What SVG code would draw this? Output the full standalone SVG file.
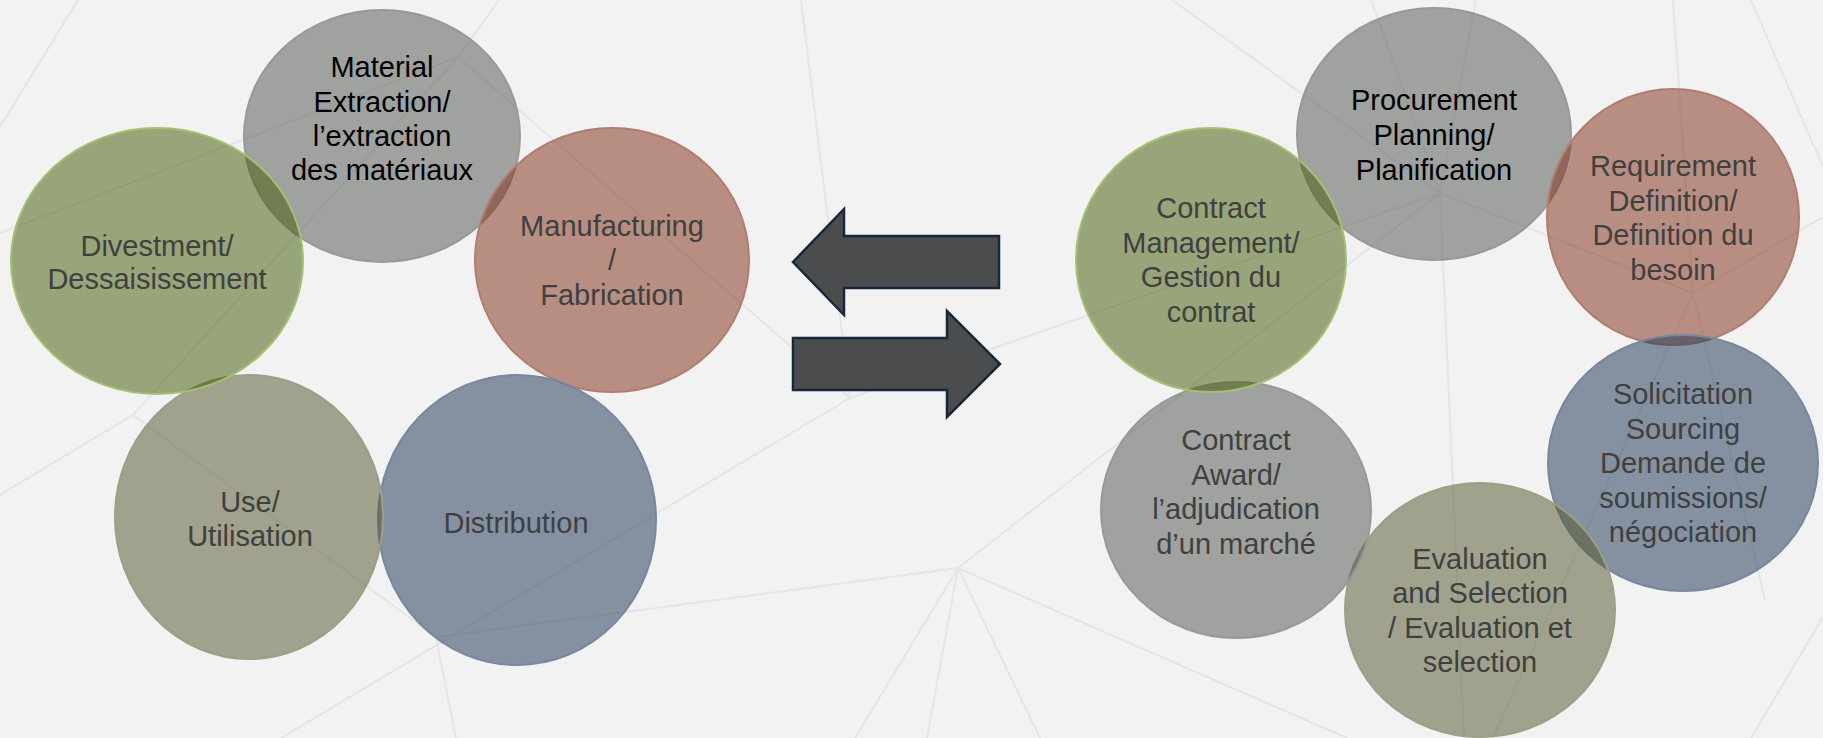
<svg xmlns="http://www.w3.org/2000/svg" width="1823" height="738" viewBox="0 0 1823 738">
<style>
.bg{fill:#f2f2f2}
.ln{stroke:#e3e5e7;stroke-width:2;fill:none}
.n{fill-opacity:0.52;stroke-width:2}
.gray{fill:#545854;stroke:#979997}
.green{fill:#455e0b;stroke:#a5c070}
.red{fill:#82321b;stroke:#b27d70}
.blue{fill:#203754;stroke:#7787a0}
.olive{fill:#565830;stroke:#9c9e86}
.t{font-family:"Liberation Sans",Arial,sans-serif;font-size:29px;text-anchor:middle;fill:#404040}
.tb{fill:#000}
.arr{fill:#4a4c4e;stroke:#17283d;stroke-width:2.5;stroke-linejoin:miter}
</style>
<rect class="bg" x="0" y="0" width="1823" height="738"/>
<g id="background-lines">
<path class="ln" d="M78 0L0 127"/>
<path class="ln" d="M499 0L458 57"/>
<path class="ln" d="M0 233L458 57"/>
<path class="ln" d="M458 57L850 398"/>
<path class="ln" d="M458 57L133 415"/>
<path class="ln" d="M133 415L0 495"/>
<path class="ln" d="M133 415L436 637"/>
<path class="ln" d="M436 637L456 738"/>
<path class="ln" d="M436 637L958 568"/>
<path class="ln" d="M281 738L850 398"/>
<path class="ln" d="M801 0L850 398"/>
<path class="ln" d="M850 398L1440 193"/>
<path class="ln" d="M958 568L1440 193"/>
<path class="ln" d="M958 568L855 738"/>
<path class="ln" d="M958 568L927 738"/>
<path class="ln" d="M958 568L1040 738"/>
<path class="ln" d="M958 568L1347 738"/>
<path class="ln" d="M1172 0L1440 193"/>
<path class="ln" d="M1371 0L1440 193"/>
<path class="ln" d="M1476 0L1440 193"/>
<path class="ln" d="M1440 193L1464 738"/>
<path class="ln" d="M1440 193L1693 293"/>
<path class="ln" d="M1673 0L1693 293"/>
<path class="ln" d="M1693 293L1823 217"/>
<path class="ln" d="M1693 293L1493 738"/>
<path class="ln" d="M1693 293L1765 600"/>
<path class="ln" d="M1751 0L1823 167"/>
<path class="ln" d="M1823 617L1751 738"/>
</g>
<g id="node-material-extraction">
<ellipse class="n gray" cx="382" cy="136" rx="138" ry="126"/>
<text class="t tb"><tspan x="382" y="77">Material</tspan><tspan x="382" y="112">Extraction/</tspan><tspan x="382" y="146">l’extraction</tspan><tspan x="382" y="180">des matériaux</tspan></text>
</g>
<g id="node-manufacturing">
<ellipse class="n red" cx="612" cy="260" rx="137" ry="132"/>
<text class="t"><tspan x="612" y="236">Manufacturing</tspan><tspan x="612" y="270">/</tspan><tspan x="612" y="305">Fabrication</tspan></text>
</g>
<g id="node-distribution">
<ellipse class="n blue" cx="517" cy="520" rx="139" ry="145"/>
<text class="t"><tspan x="516" y="533">Distribution</tspan></text>
</g>
<g id="node-use">
<ellipse class="n olive" cx="249" cy="517" rx="134" ry="142"/>
<text class="t"><tspan x="250" y="512">Use/</tspan><tspan x="250" y="546">Utilisation</tspan></text>
</g>
<g id="node-divestment">
<ellipse class="n green" cx="157" cy="261" rx="146" ry="133"/>
<text class="t"><tspan x="157" y="256">Divestment/</tspan><tspan x="157" y="289">Dessaisissement</tspan></text>
</g>
<g id="connectors">
<polygon class="arr" points="793,262 844,209 844,236 999,236 999,288 844,288 844,315"/>
<polygon class="arr" points="793,338 947,338 947,311 1000,364 947,417 947,390 793,390"/>
</g>
<g id="node-procurement-planning">
<ellipse class="n gray" cx="1434" cy="134" rx="137" ry="126"/>
<text class="t tb"><tspan x="1434" y="110">Procurement</tspan><tspan x="1434" y="145">Planning/</tspan><tspan x="1434" y="180">Planification</tspan></text>
</g>
<g id="node-requirement-definition">
<ellipse class="n red" cx="1673" cy="217" rx="126" ry="128"/>
<text class="t"><tspan x="1673" y="176">Requirement</tspan><tspan x="1673" y="211">Definition/</tspan><tspan x="1673" y="245">Definition du</tspan><tspan x="1673" y="280">besoin</tspan></text>
</g>
<g id="node-solicitation">
<ellipse class="n blue" cx="1683" cy="463" rx="135" ry="128"/>
<text class="t"><tspan x="1683" y="404">Solicitation</tspan><tspan x="1683" y="439">Sourcing</tspan><tspan x="1683" y="473">Demande de</tspan><tspan x="1683" y="508">soumissions/</tspan><tspan x="1683" y="542">négociation</tspan></text>
</g>
<g id="node-evaluation-selection">
<ellipse class="n olive" cx="1480" cy="610" rx="135" ry="127"/>
<text class="t"><tspan x="1480" y="569">Evaluation</tspan><tspan x="1480" y="603">and Selection</tspan><tspan x="1480" y="638">/ Evaluation et</tspan><tspan x="1480" y="672">selection</tspan></text>
</g>
<g id="node-contract-award">
<ellipse class="n gray" cx="1236" cy="510" rx="135" ry="128"/>
<text class="t"><tspan x="1236" y="450">Contract</tspan><tspan x="1236" y="485">Award/</tspan><tspan x="1236" y="519">l’adjudication</tspan><tspan x="1236" y="554">d’un marché</tspan></text>
</g>
<g id="node-contract-management">
<ellipse class="n green" cx="1211" cy="260" rx="135" ry="132"/>
<text class="t"><tspan x="1211" y="218">Contract</tspan><tspan x="1211" y="253">Management/</tspan><tspan x="1211" y="287">Gestion du</tspan><tspan x="1211" y="322">contrat</tspan></text>
</g>
</svg>
